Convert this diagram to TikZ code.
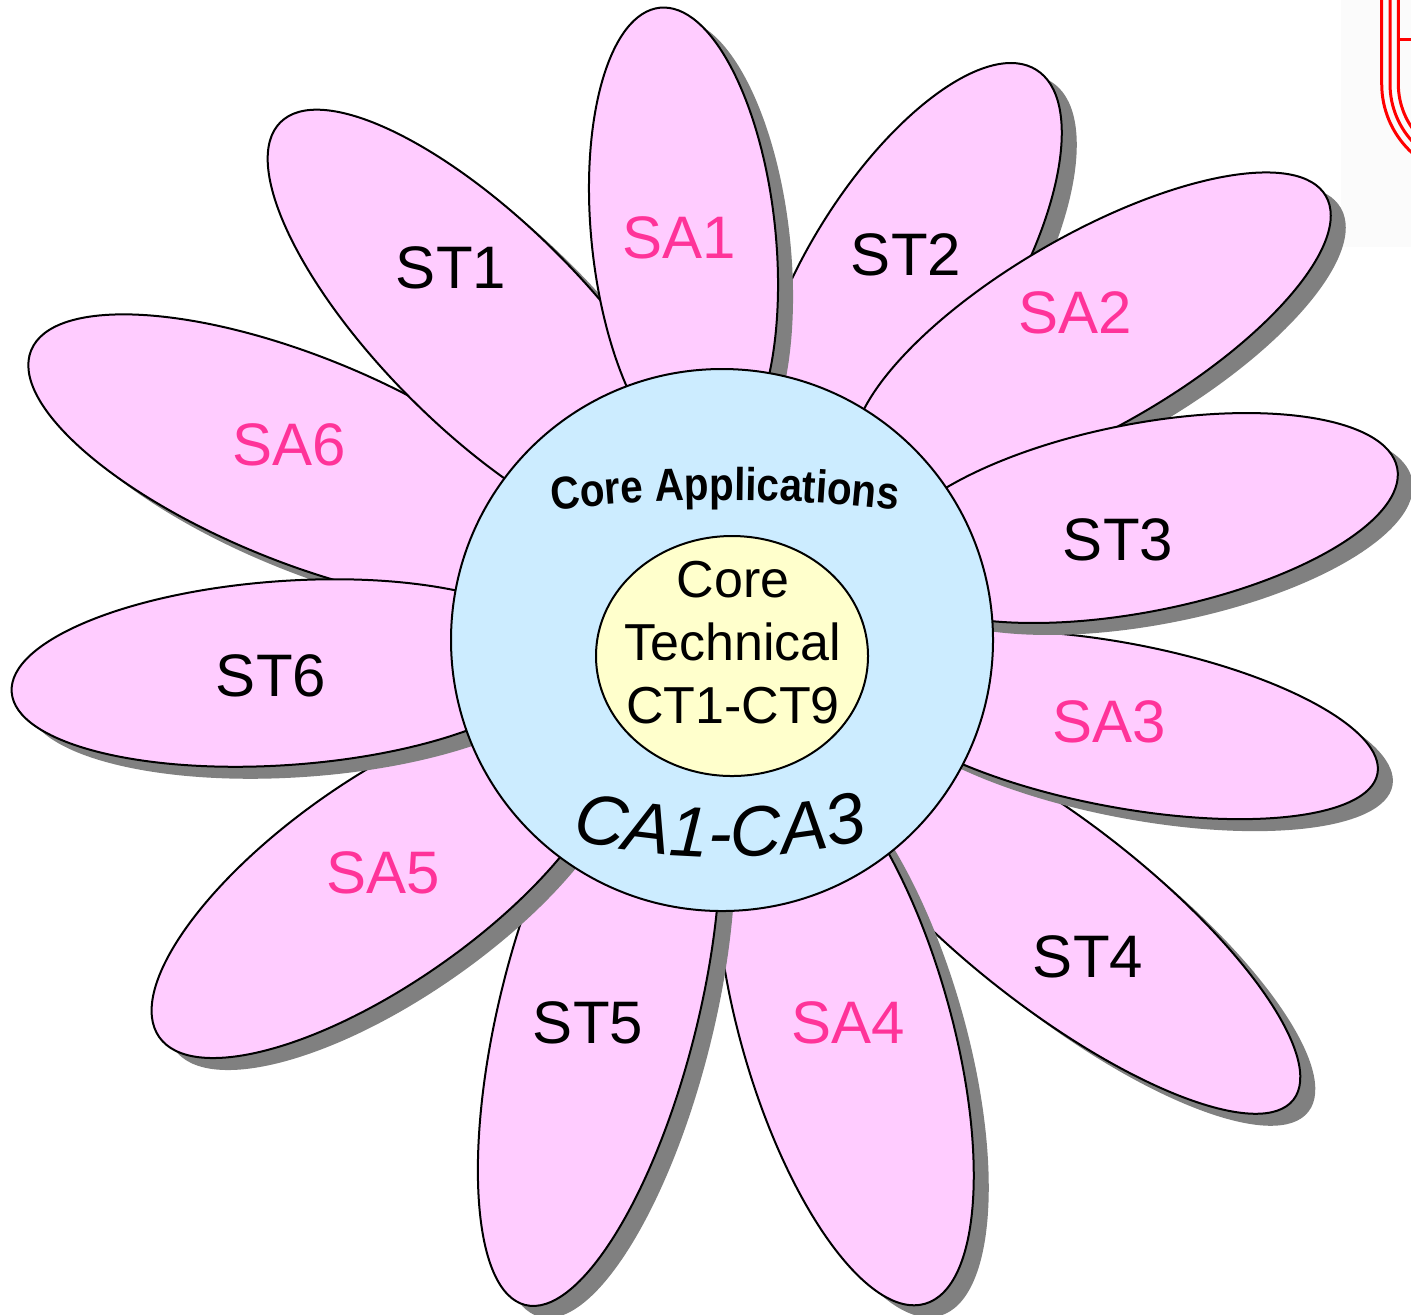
\documentclass[tikz,border=0pt]{standalone}
\usepackage{fontspec}
\setmainfont{Liberation Sans}
\newfontfamily\arcfont[FakeStretch=0.88]{Liberation Sans}
\usetikzlibrary{decorations.text}

\definecolor{petalpink}{HTML}{FFCCFF}
\definecolor{sapink}{HTML}{FF3399}
\definecolor{coreblue}{HTML}{CCECFF}
\definecolor{techyellow}{HTML}{FFFFCC}
\definecolor{petalshade}{HTML}{808080}
\definecolor{panelgray}{HTML}{FBFBFB}

% one petal: centre x, centre y, axis angle, half length, half width
\newcommand\flowerpetal[5]{%
  \fill[petalshade, rotate around={#3:(#1+15,#2+12)}]
    (#1+15,#2+12) ellipse [x radius=#4, y radius=#5];
  \draw[petalbody, rotate around={#3:(#1,#2)}]
    (#1,#2) ellipse [x radius=#4, y radius=#5];
}

\begin{document}
\begin{tikzpicture}[x=0.5pt, y=-0.5pt,
  petalbody/.style={fill=petalpink, draw=black, line width=1pt},
  stlabel/.style={font=\fontsize{30}{36}\selectfont, text=black, inner sep=0pt},
  salabel/.style={font=\fontsize{30}{36}\selectfont, text=sapink, inner sep=0pt},
  corebody/.style={fill=coreblue, draw=black, line width=1pt},
  techbody/.style={fill=techyellow, draw=black, line width=1pt},
  framered/.style={draw=red, line width=1.5pt}]

\useasboundingbox (0,0) rectangle (1411,1314);
\begin{scope}
\clip (0,0) rectangle (1411,1314);

% faint panel behind the corner frame
\fill[panelgray] (1341,0) rectangle (1411,247);

% petals, back to front
\flowerpetal{908}{275}{58}{242}{100}       % ST2
\flowerpetal{1057}{915}{-38}{300}{93}      % ST4
\flowerpetal{300}{459}{158}{290}{103}      % SA6
\flowerpetal{1092}{331}{30}{270}{96}       % SA2
\flowerpetal{1120}{725}{-10.7}{262}{82}    % SA3
\flowerpetal{1140}{518}{11}{262}{94}       % ST3
\flowerpetal{845}{1025}{-74}{290}{105}     % SA4
\flowerpetal{599}{1009}{-104}{305}{99}     % ST5
\flowerpetal{382}{881}{-145}{272}{102}     % SA5
\flowerpetal{285}{673}{184}{274}{92}       % ST6
\flowerpetal{484}{326}{135}{288}{103}      % ST1
\flowerpetal{683.5}{236.5}{95.9}{230}{92}  % SA1

% centre discs
\draw[corebody] (722,640) circle [radius=271];
\draw[techbody] (732,656) ellipse [x radius=136, y radius=120];

% corner frame lines
\draw[framered] (1381.7,-10) -- (1381.7,84) arc[start angle=180, end angle=90, radius=93.3];
\draw[framered] (1390,-10) -- (1390,84) arc[start angle=180, end angle=90, radius=85];
\draw[framered] (1398.3,-10) -- (1398.3,84) arc[start angle=180, end angle=90, radius=76.7];
\draw[framered] (1398.3,39) -- (1420,39);
\end{scope}

% petal labels
\node[stlabel] (st1) at (451,268) {ST1};
\node[salabel] (sa1) at (679,238) {SA1};
\node[stlabel] (st2) at (906,255) {ST2};
\node[salabel] (sa2) at (1075,313) {SA2};
\node[stlabel] (st3) at (1118,540) {ST3};
\node[salabel] (sa3) at (1109,722) {SA3};
\node[stlabel] (st4) at (1088,957) {ST4};
\node[salabel] (sa4) at (848,1023) {SA4};
\node[stlabel] (st5) at (588,1023) {ST5};
\node[salabel] (sa5) at (383,873) {SA5};
\node[stlabel] (st6) at (271,676) {ST6};
\node[salabel] (sa6) at (289,445) {SA6};

% core texts
\node[font=\fontsize{26}{31.5}\selectfont, align=center, inner sep=0pt]
  (coretech) at (733,643) {Core\\Technical\\CT1-CT9};
\path[decorate, decoration={text along path, text align=center,
    text={|\arcfont\bfseries\fontsize{23}{28}\selectfont|Core Applications}}]
  (725,1950) ++(-100:1450) arc[start angle=-100, end angle=-80, radius=1450];
\path[decorate, decoration={text along path, text align=center,
    text={|\itshape\fontsize{35.5}{40}\selectfont|CA1-CA3}}]
  (720,239) ++(120:618) arc[start angle=120, end angle=60, radius=618];
\end{tikzpicture}
\end{document}
